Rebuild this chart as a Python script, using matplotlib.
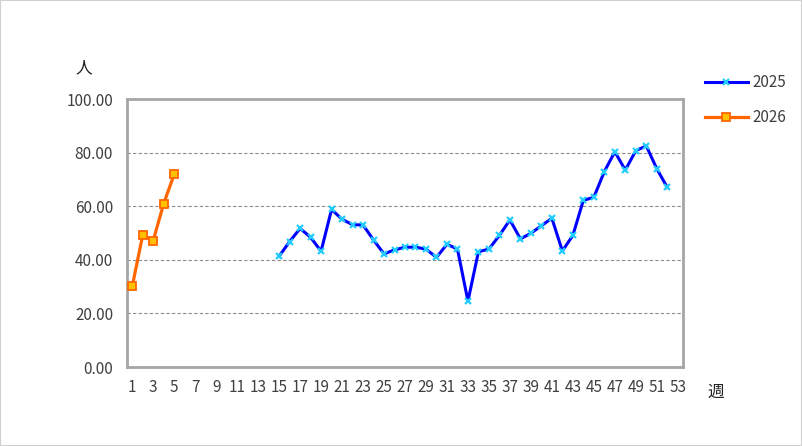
import matplotlib
matplotlib.use('Agg')
import matplotlib.pyplot as plt
import numpy as np

plt.rcParams['font.family'] = ['Noto Sans CJK JP', 'DejaVu Sans']

# 週番号
weeks = list(range(1, 54))

# 2025年 (第15週〜第52週)
weeks_2025 = list(range(15, 53))
values_2025 = [41.3, 46.8, 51.7, 48.4, 43.2, 58.8, 55.1, 53.1, 53.0, 47.4,
               42.2, 43.7, 44.7, 44.7, 44.0, 40.9, 45.8, 44.0, 24.6, 43.0,
               44.0, 49.1, 54.9, 47.8, 49.9, 52.7, 55.5, 43.3, 49.1, 62.2,
               63.3, 72.9, 80.3, 73.5, 80.7, 82.5, 74.0, 67.0]

# 2026年 (第1週〜第5週)
weeks_2026 = [1, 2, 3, 4, 5]
values_2026 = [30.1, 49.3, 47.2, 61.0, 71.9]

yticks = [0, 20, 40, 60, 80, 100]
xtick_labels = [str(w) for w in weeks[::2]]

fig = plt.figure(figsize=(8.02, 4.46), dpi=100)
ax = fig.add_axes([127/802, 1 - 367/446, (683 - 127)/802, (367 - 99)/446])

# 枠線
fig.patches.append(plt.Rectangle((0, 0), 1, 1, transform=fig.transFigure,
                                 fill=False, edgecolor='#d0d0d0', linewidth=1.5))

l1, = ax.plot(weeks_2025, values_2025, color='#0000ff', linewidth=2.2,
              marker='x', markersize=5, markeredgecolor='#22ccff', markeredgewidth=1.6,
              label='2025', zorder=3)
l2, = ax.plot(weeks_2026, values_2026, color='#ff6600', linewidth=2.3,
              marker='s', markersize=5.5, markerfacecolor='#ffc000', markeredgecolor='#ff6600',
              markeredgewidth=1.3, label='2026', zorder=3)

ax.set_xlim(0.5, 53.5)
ax.set_ylim(0, 100)
ax.set_yticks(yticks)
ax.set_yticklabels([f'{v:.2f}' for v in yticks])
ax.set_xticks(weeks[::2])
ax.set_xticklabels(xtick_labels)

for y in yticks[1:-1]:
    ax.axhline(y, color='#8c8c8c', linewidth=0.8, linestyle=(0, (3, 2)), zorder=1)

for s in ax.spines.values():
    s.set_color('#a6a6a6')
    s.set_linewidth(2)

ax.tick_params(axis='both', length=0, labelsize=11, labelcolor='#404040')
ax.tick_params(axis='y', pad=10)
ax.tick_params(axis='x', pad=9)

fig.text(84/802, 1 - 68/446, '人', ha='center', va='center', fontsize=12, color='#222222')
fig.text(716/802, 1 - 392/446, '週', ha='center', va='center', fontsize=12, color='#222222')

fig.legend(handles=[l1, l2], loc='upper left', bbox_to_anchor=(705/802, 1 - 74/446),
           frameon=False, borderpad=0, borderaxespad=0, handlelength=2.8,
           handletextpad=0.3, labelspacing=1.2, fontsize=11, labelcolor='#404040')

fig.savefig('out.png', dpi=100)
